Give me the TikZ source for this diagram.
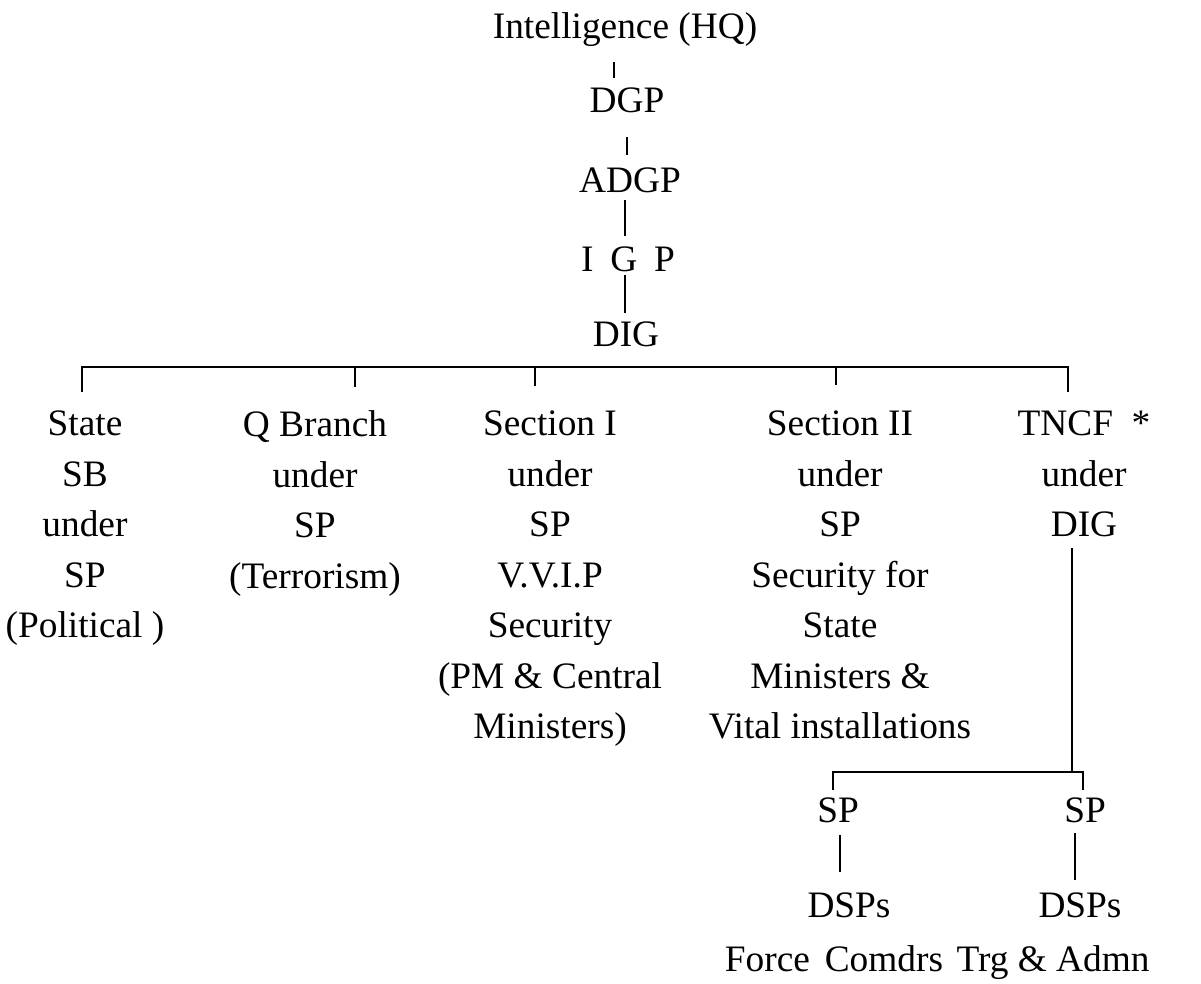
\documentclass[tikz,border=0pt]{standalone}
\usepackage{fontspec}
\setmainfont{Liberation Serif}
\usetikzlibrary{calc}
\begin{document}
\begin{tikzpicture}[x=0.75pt,y=-0.75pt,
  every node/.style={inner sep=0pt,outer sep=0pt,font=\fontsize{28pt}{37.9pt}\selectfont},
  lbl/.style={anchor=base},
  col/.style={anchor=north,align=center},
  conn/.style={line width=2.2pt}]
\useasboundingbox (0,0) rectangle (1201,983);
% top chain
\node[lbl] (hq) at (625,38) {Intelligence (HQ)};
\node[lbl] (dgp) at (627,112) {DGP};
\node[lbl] (adgp) at (630,192) {ADGP};
\node[lbl] (igp) at (628,271) {I\hspace{0.45em}G\hspace{0.45em}P};
\node[lbl] (dig) at (626,346) {DIG};
% columns
\node[col] (c1) at (85,411) {State\\SB\\under\\SP\\(Political )};
\node[col] (c2) at (315,411) {Q Branch\\under\\SP\\(Terrorism)};
\node[col] (c3) at (550,411) {Section I\\under\\SP\\V.V.I.P\\Security\\(PM \& Central\\Ministers)};
\node[col] (c4) at (840,411) {Section II\\under\\SP\\Security for\\State\\Ministers \&\\Vital installations};
\node[col] (c5) at (1084,411) {TNCF\hspace{0.5em}*\\under\\DIG};
% TNCF subtree
\node[lbl] (sp1) at (838,822) {SP};
\node[lbl] (sp2) at (1085,822) {SP};
\node[lbl] (dsp1) at (849,917) {DSPs};
\node[lbl] (dsp2) at (1080,917) {DSPs};
\node[lbl] (fc) at (834,971) {Force\hspace{0.4em}Comdrs};
\node[lbl] (ta) at (1053,971) {Trg \& Admn};
% connectors, chain
\draw[conn] ($(hq.base)+(-11,24)$) -- ($(dgp.base)+(-13,-34)$);
\draw[conn] ($(dgp.base)+(0,25)$) -- ($(adgp.base)+(-3,-37)$);
\draw[conn] ($(adgp.base)+(-5,8)$) -- ($(igp.base)+(-3,-35)$);
\draw[conn] ($(igp.base)+(-3,4)$) -- ($(dig.base)+(-1,-33)$);
% main bus
\draw[conn] ($(c1.north)+(-3,-19)$) -- ($(c1.north)+(-3,-44)$) -| ($(c5.north)+(-16,-19)$);
\draw[conn] ($(c2.north)+(40,-44)$) -- ($(c2.north)+(40,-24)$);
\draw[conn] ($(c3.north)+(-15,-44)$) -- ($(c3.north)+(-15,-25)$);
\draw[conn] ($(c4.north)+(-4,-44)$) -- ($(c4.north)+(-4,-26)$);
% TNCF branch
\draw[conn] ($(c5.north)+(-12,137)$) -- ($(c5.north)+(-12,361)$);
\draw[conn] ($(sp1.base)+(-5,-32)$) |- ($(sp2.base)+(-2,-50)$) -- ($(sp2.base)+(-2,-32)$);
\draw[conn] ($(sp1.base)+(2,13)$) -- ($(dsp1.base)+(-9,-45)$);
\draw[conn] ($(sp2.base)+(-10,11)$) -- ($(dsp2.base)+(-5,-37)$);
\end{tikzpicture}
\end{document}
